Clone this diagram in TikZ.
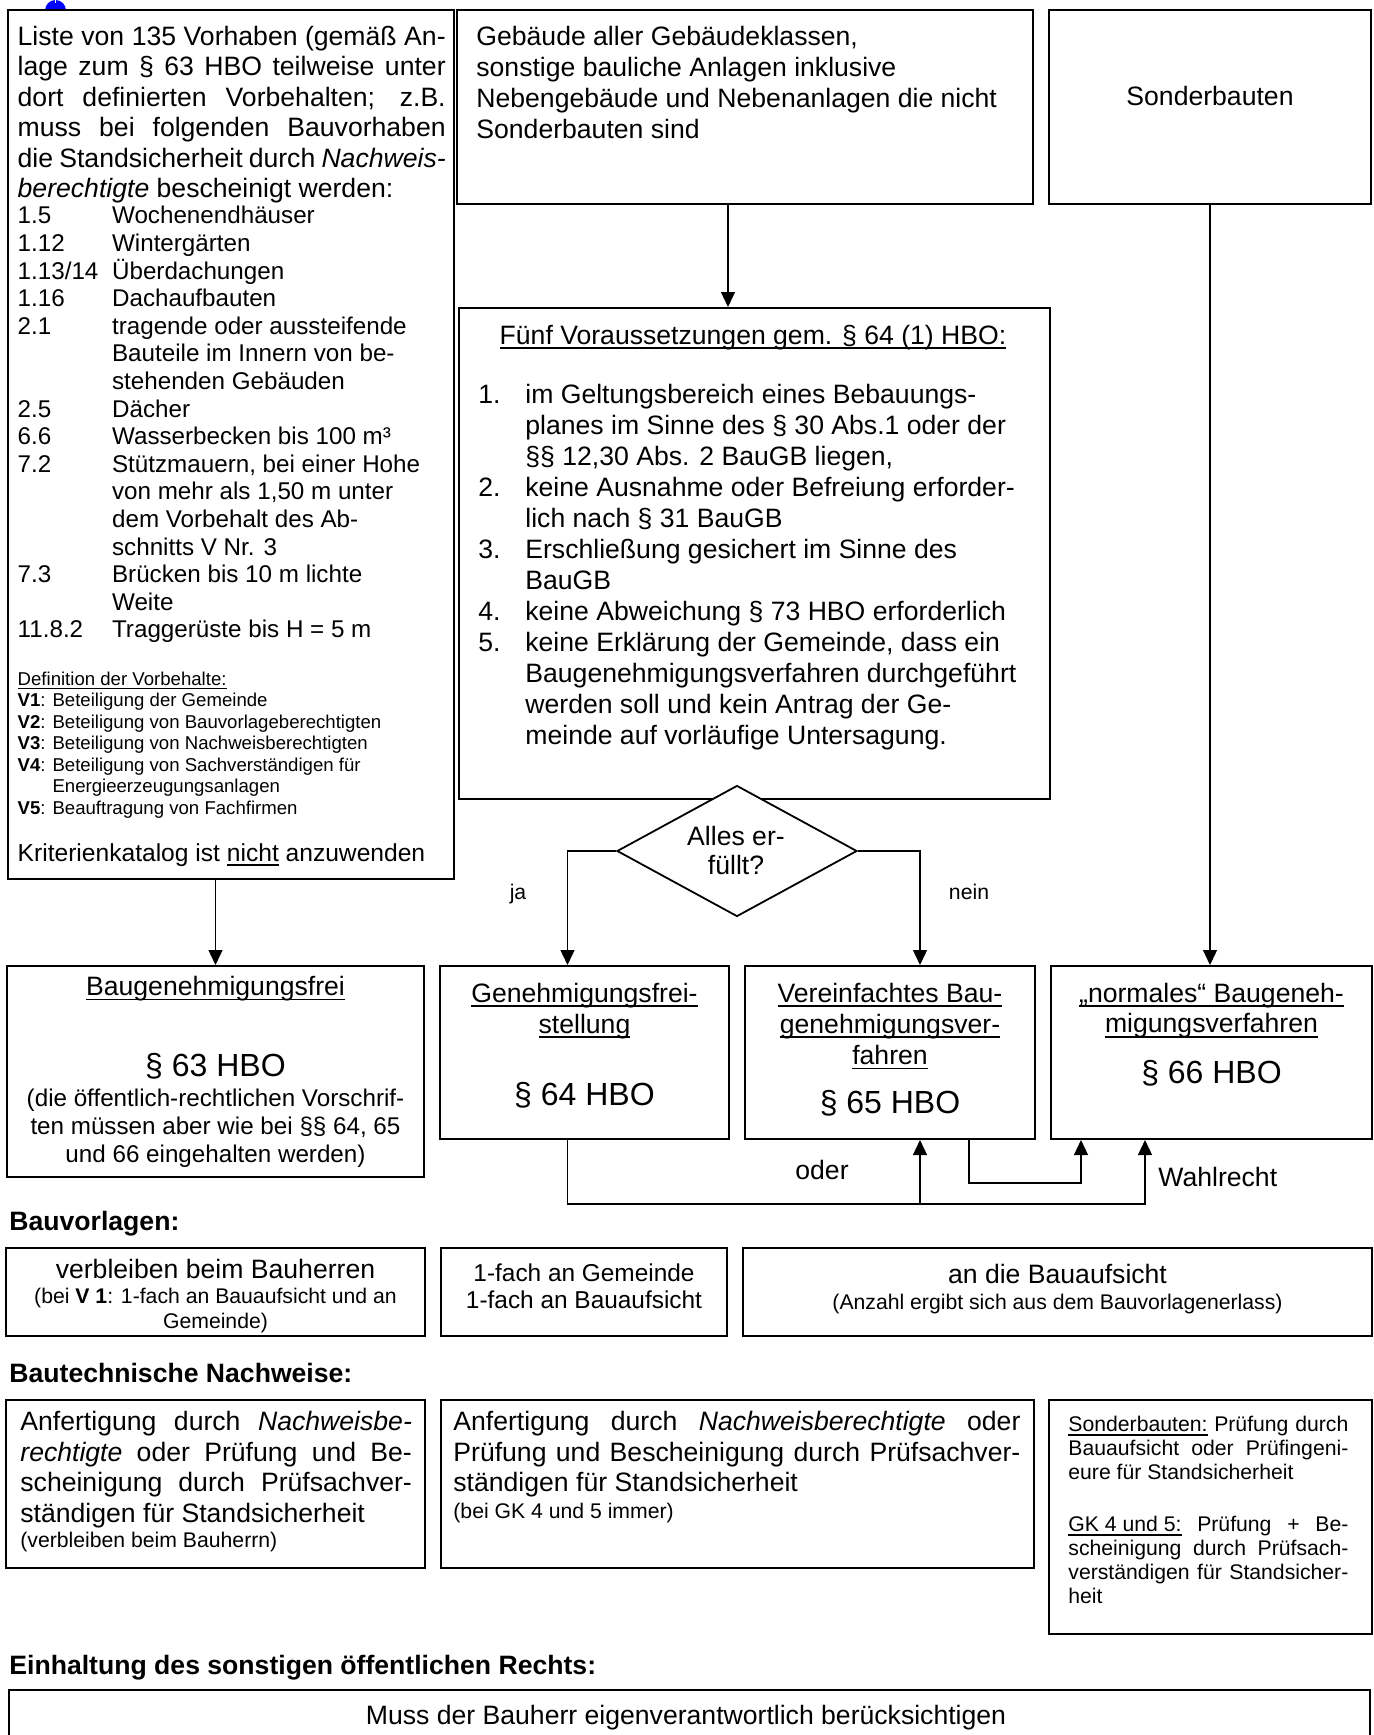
\documentclass[tikz,border=0pt]{standalone}
\usepackage{fontspec}
\setmainfont{Liberation Sans}
\usetikzlibrary{arrows.meta,shapes.geometric,fit}

\newcommand\ul[1]{\setbox0\hbox{#1}\rlap{\rule[-0.19em]{\wd0}{0.07em}}\box0\relax}
\newcommand\J[2]{\makebox[#1][s]{#2}}
\newcommand\R{\rule{0pt}{12pt}}
\newcommand\II[1]{\makebox[47.2pt][l]{#1}}
\newcommand\NN[1]{\makebox[23.5pt][l]{#1}}

\newcommand\fM{\fontsize{13.3pt}{15.5pt}\selectfont}
\newcommand\fP{\fontsize{13.3pt}{15.25pt}\selectfont}
\newcommand\fL{\fontsize{12.1pt}{13.8pt}\selectfont}
\newcommand\fD{\fontsize{9.3pt}{10.75pt}\selectfont}
\newcommand\fS{\fontsize{10.6pt}{12.5pt}\selectfont}
\newcommand\fB{\fontsize{16pt}{18pt}\selectfont}

\tikzset{
  bx/.style={draw, line width=1pt, inner sep=0pt},
  tx/.style={anchor=north west, inner sep=0pt, align=left},
  tcn/.style={anchor=north, inner sep=0pt, align=center},
  tb/.style={anchor=base, inner sep=0pt},
  tbw/.style={anchor=base west, inner sep=0pt},
  arr/.style={line width=0.65pt, -{Triangle[length=7.5pt,width=7pt]}},
  hd/.style={anchor=base west, inner sep=0pt, font=\fM\bfseries},
}

\begin{document}
\begin{tikzpicture}[x=0.5pt,y=-0.5pt]
\useasboundingbox (0,0) rectangle (1374,1735);
\fill[white] (0,0) rectangle (1374,1735);

% blue mark at top
\begin{scope}
\clip (0,0) rectangle (1374,9.5);
\fill[blue] (55.5,10.5) circle (10.5);
\fill[white] (54.8,0) rectangle (56.2,3);
\end{scope}

% ---------- boxes ----------
\node[bx, fit={(7.5,9.5) (454,879)}] (lst) {};
\node[bx, fit={(457,9.5) (1033,204)}] (geb) {};
\node[bx, fit={(1049,9.5) (1371,204)}] (son) {};
\node[bx, fit={(459,308) (1050,799)}] (fuenf) {};
\node[diamond, draw, line width=0.9pt, fill=white, minimum width=120pt, minimum height=65.5pt, inner sep=0pt] (dia) at (737,851) {};

\node[bx, fit={(7,966) (424,1177)}] (bg) {};
\node[bx, fit={(440,966) (729,1139)}] (gen) {};
\node[bx, fit={(745,966) (1035,1139)}] (ver) {};
\node[bx, fit={(1051,966) (1372,1139)}] (norm) {};

\node[bx, fit={(6,1248) (425,1336)}] (bv1) {};
\node[bx, fit={(441,1248) (727,1336)}] (bv2) {};
\node[bx, fit={(743,1248) (1372,1336)}] (bv3) {};

\node[bx, fit={(6,1400) (425,1568)}] (bt1) {};
\node[bx, fit={(441,1400) (1033.5,1568)}] (bt2) {};
\node[bx, fit={(1049,1400) (1372,1634)}] (bt3) {};

\node[bx, fit={(9,1690) (1370,1770)}] (eh) {};

% ---------- left box text ----------
\node[tx, font=\fP] (lstA) at (17.3,20.6) {\R\J{214pt}{Liste von 135 Vorhaben (gemäß An-}\\
\J{214pt}{lage zum § 63 HBO teilweise unter}\\
\J{214pt}{dort definierten Vorbehalten; z.B.}\\
\J{214pt}{muss bei folgenden Bauvorhaben}\\
\J{214pt}{die Standsicherheit durch \textit{Nachweis-}}\\
\textit{berechtigte} bescheinigt werden:};

\node[tx, font=\fL] (lstB) at (17.3,199.5) {\R\II{1.5}Wochenendhäuser\\
\II{1.12}Wintergärten\\
\II{1.13/14}Überdachungen\\
\II{1.16}Dachaufbauten\\
\II{2.1}tragende oder aussteifende\\
\II{}Bauteile im Innern von be-\\
\II{}stehenden Gebäuden\\
\II{2.5}Dächer\\
\II{6.6}Wasserbecken bis 100 m³\\
\II{7.2}Stützmauern, bei einer Hohe\\
\II{}von mehr als 1,50 m unter\\
\II{}dem Vorbehalt des Ab-\\
\II{}schnitts V Nr. 3\\
\II{7.3}Brücken bis 10 m lichte\\
\II{}Weite\\
\II{11.8.2}Traggerüste bis H = 5 m};

\node[tx, font=\fD] (lstC) at (17.3,661) {\R\ul{Definition der Vorbehalte:}\\
\textbf{V1}: Beteiligung der Gemeinde\\
\textbf{V2}: Beteiligung von Bauvorlageberechtigten\\
\textbf{V3}: Beteiligung von Nachweisberechtigten\\
\textbf{V4}: Beteiligung von Sachverständigen für\\
\phantom{\textbf{V4}: }Energieerzeugungsanlagen\\
\textbf{V5}: Beauftragung von Fachfirmen};

\node[tbw, font=\fontsize{12.3pt}{14pt}\selectfont] (lstD) at (17.3,861.3) {Kriterienkatalog ist \ul{nicht} anzuwenden};

% ---------- top boxes text ----------
\node[tx, font=\fM] (gebT) at (476,21.5) {\R Gebäude aller Gebäudeklassen,\\
sonstige bauliche Anlagen inklusive\\
Nebengebäude und Nebenanlagen die nicht\\
Sonderbauten sind};
\node[tb, font=\fM] (sonT) at (1210,105.8) {Sonderbauten};

\node[tb, font=\fM] (fuH) at (753,344.3) {\ul{Fünf Voraussetzungen gem. § 64 (1) HBO:}};
\node[tx, font=\fM] (fuL) at (478,378.6) {\R\NN{1.}im Geltungsbereich eines Bebauungs-\\
\NN{}planes im Sinne des § 30 Abs.1 oder der\\
\NN{}§§ 12,30 Abs. 2 BauGB liegen,\\
\NN{2.}keine Ausnahme oder Befreiung erforder-\\
\NN{}lich nach § 31 BauGB\\
\NN{3.}Erschließung gesichert im Sinne des\\
\NN{}BauGB\\
\NN{4.}keine Abweichung § 73 HBO erforderlich\\
\NN{5.}keine Erklärung der Gemeinde, dass ein\\
\NN{}Baugenehmigungsverfahren durchgeführt\\
\NN{}werden soll und kein Antrag der Ge-\\
\NN{}meinde auf vorläufige Untersagung.};

\node[tcn, font=\fontsize{13.3pt}{14.8pt}\selectfont] (diaT) at (736,820.8) {\R Alles er-\\füllt?};
\node[tb, font=\fS] (jaT) at (518,899.7) {ja};
\node[tb, font=\fS] (neinT) at (969,899.7) {nein};

% ---------- procedure boxes text ----------
\node[tb, font=\fM] (bgT) at (215.5,995.3) {\ul{Baugenehmigungsfrei}};
\node[tb, font=\fB] (bgP) at (215.5,1076.4) {§ 63 HBO};
\node[tcn, font=\fontsize{12.1pt}{13.85pt}\selectfont] (bgX) at (215.5,1082.5) {\R(die öffentlich-rechtlichen Vorschrif-\\ten müssen aber wie bei §§ 64, 65\\und 66 eingehalten werden)};

\node[tcn, font=\fontsize{13.3pt}{15.5pt}\selectfont] (genT) at (584.5,977.6) {\R\ul{Genehmigungsfrei-}\\\ul{stellung}};
\node[tb, font=\fB] (genP) at (584.5,1105) {§ 64 HBO};

\node[tcn, font=\fontsize{13.3pt}{15.6pt}\selectfont] (verT) at (890,977.6) {\R\ul{Vereinfachtes Bau-}\\\ul{genehmigungsver-}\\\ul{fahren}};
\node[tb, font=\fB] (verP) at (890,1113.6) {§ 65 HBO};

\node[tcn, font=\fontsize{13.3pt}{15.25pt}\selectfont] (normT) at (1211.5,977.6) {\R\ul{„normales“ Baugeneh-}\\\ul{migungsverfahren}};
\node[tb, font=\fB] (normP) at (1211.5,1083.1) {§ 66 HBO};

\node[tb, font=\fM] (oderT) at (822,1179.8) {oder};
\node[tbw, font=\fM] (wahlT) at (1158,1186.8) {Wahlrecht};

% ---------- Bauvorlagen ----------
\node[hd] (h1) at (9,1230.8) {Bauvorlagen:};
\node[tb, font=\fM] (bv1a) at (215.5,1278.3) {verbleiben beim Bauherren};
\node[tcn, font=\fS] (bv1b) at (215.5,1279.5) {\R(bei \textbf{V 1}: 1-fach an Bauaufsicht und an\\Gemeinde)};
\node[tcn, font=\fontsize{12.2pt}{13.65pt}\selectfont] (bv2a) at (584,1256.7) {\R 1-fach an Gemeinde\\1-fach an Bauaufsicht};
\node[tb, font=\fM] (bv3a) at (1057.5,1283.6) {an die Bauaufsicht};
\node[tb, font=\fS] (bv3b) at (1057.5,1309.7) {(Anzahl ergibt sich aus dem Bauvorlagenerlass)};

% ---------- Bautechnische Nachweise ----------
\node[hd] (h2) at (9,1382.1) {Bautechnische Nachweise:};
\node[tx, font=\fontsize{13.3pt}{15.4pt}\selectfont] (bt1a) at (20,1405.8) {\R\J{195.75pt}{Anfertigung durch \textit{Nachweisbe-}}\\
\J{195.75pt}{\textit{rechtigte} oder Prüfung und Be-}\\
\J{195.75pt}{scheinigung durch Prüfsachver-}\\
ständigen für Standsicherheit};
\node[tbw, font=\fS] (bt1b) at (20,1547) {(verbleiben beim Bauherrn)};

\node[tx, font=\fontsize{13.3pt}{15.4pt}\selectfont] (bt2a) at (453,1405.8) {\R\J{283.5pt}{Anfertigung durch \textit{Nachweisberechtigte} oder}\\
\J{283.5pt}{Prüfung und Bescheinigung durch Prüfsachver-}\\
ständigen für Standsicherheit};
\node[tbw, font=\fS] (bt2b) at (453,1518.5) {(bei GK 4 und 5 immer)};

\node[tx, font=\fontsize{10.6pt}{12pt}\selectfont] (bt3a) at (1068,1407.5) {\R\J{140pt}{\ul{Sonderbauten:} Prüfung durch}\\
\J{140pt}{Bauaufsicht oder Prüfingeni-}\\
eure für Standsicherheit};
\node[tx, font=\fontsize{10.6pt}{12pt}\selectfont] (bt3b) at (1068,1507.5) {\R\J{140pt}{\ul{GK 4 und 5:} Prüfung + Be-}\\
\J{140pt}{scheinigung durch Prüfsach-}\\
\J{140pt}{verständigen für Standsicher-}\\
heit};

% ---------- Einhaltung ----------
\node[hd] (h3) at (9,1674) {Einhaltung des sonstigen öffentlichen Rechts:};
\node[tb, font=\fM] (ehT) at (686,1724) {Muss der Bauherr eigenverantwortlich berücksichtigen};

% ---------- connectors ----------
\coordinate (cgeb) at (728,0);
\coordinate (cja) at (567.5,0);
\coordinate (cnein) at (920,0);
\coordinate (cw) at (1145,0);
\coordinate (c3) at (969,0);
\coordinate (c4) at (1081,0);
\coordinate (yb1) at (0,1204);
\coordinate (yb2) at (0,1183);

\draw[arr] (bg.north |- lst.south) -- (bg.north);
\draw[arr] (geb.south -| cgeb) -- (fuenf.north -| cgeb);
\draw[arr] (son.south) -- (son.south |- norm.north);
\draw[arr] (dia.west) -| (gen.north -| cja);
\draw[arr] (dia.east) -| (ver.north -| cnein);
\draw[arr] (gen.south -| cja) -- (cja |- yb1) -- (cw |- yb1) -- (norm.south -| cw);
\draw[arr] (cnein |- yb1) -- (ver.south -| cnein);
\draw[arr] (ver.south -| c3) -- (c3 |- yb2) -- (c4 |- yb2) -- (norm.south -| c4);
\end{tikzpicture}
\end{document}
